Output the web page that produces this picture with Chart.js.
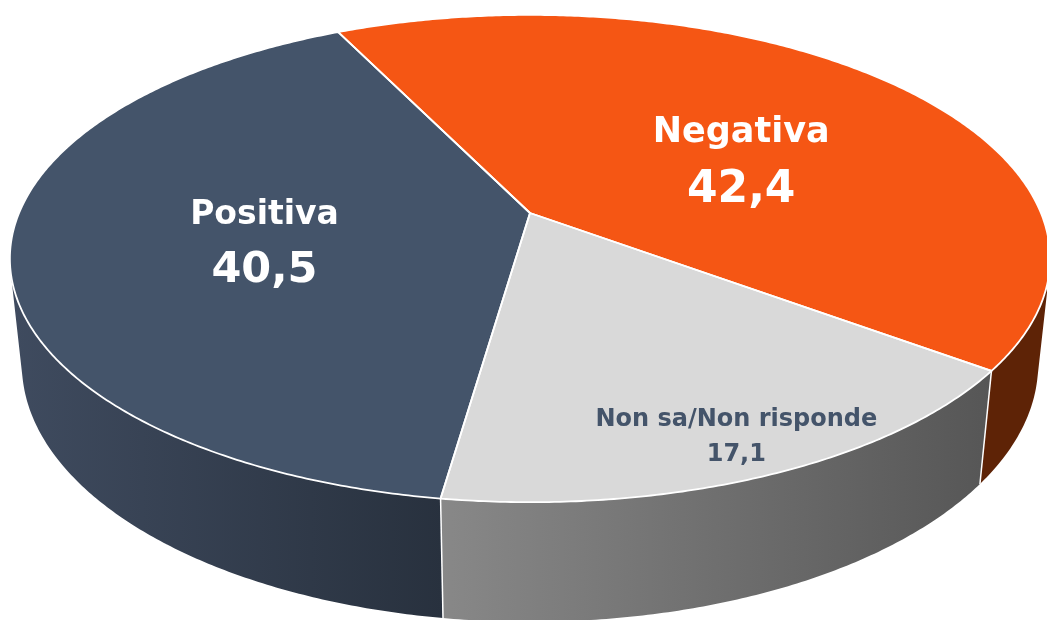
<!DOCTYPE html>
<html lang="it">
<head>
<meta charset="utf-8">
<title>Valutazione</title>
<script src="https://cdn.jsdelivr.net/npm/chart.js@4.4.1/dist/chart.umd.min.js"></script>
<style>
  html, body { margin: 0; padding: 0; background: #fff; }
  #wrap { width: 1047px; height: 620px; position: relative; }
</style>
</head>
<body>
<div id="wrap"><canvas id="pieChart"></canvas></div>
<script>
// =========================
// Data
// =========================
const sliceLabels = ["Positiva", "Negativa", "Non sa/Non risponde"];
const sliceValues = [40.5, 42.4, 17.1];

// =========================
// Style
// =========================
const topColors  = ["#44546A", "#F55614", "#D9D9D9"];
const sideColors = [["#3F4B5F", "#28313E"], ["#5E2306", "#5E2306"], ["#888888", "#565656"]];
const textColors = ["#FFFFFF", "#FFFFFF", "#44546A"];
const nameSizes  = [33, 35, 24];
const valueSizes = [43, 44, 24];
const labelRadius = [0.52, 0.5, 0.875];
const labelTurn   = [-2.6, 9.6, -0.5];   // degrees
const FONT = '"DejaVu Sans", sans-serif';

// perspective camera for the 3D look
const view = { cx: 530, cy: 213, f: 2427, dist: 4.75, tilt: 27.4 * Math.PI / 180, depth: 0.235 };

function project(r, thetaDeg, z) {
  const t = thetaDeg * Math.PI / 180;
  const X = r * Math.sin(t), Y = r * Math.cos(t);
  const zc = view.dist + Y * Math.cos(view.tilt) - z * Math.sin(view.tilt);
  const yc = Y * Math.sin(view.tilt) + z * Math.cos(view.tilt);
  return { x: view.cx + view.f * X / zc, y: view.cy - view.f * yc / zc };
}

function rimPoints(a, b, z) {
  const pts = [];
  const n = Math.max(2, Math.ceil(Math.abs(b - a) / 0.5));
  for (let i = 0; i <= n; i++) pts.push(project(1, a + (b - a) * i / n, z));
  return pts;
}

function formatValue(v) {
  return v.toFixed(1).replace(".", ",");
}

// =========================
// 3D pie plugin
// =========================
const pie3d = {
  id: "pie3d",
  beforeDatasetsDraw(chart) {
    const ctx = chart.ctx;
    const arcs = chart.getDatasetMeta(0).data;
    const h = -view.depth;

    // slice angles from the library, clockwise from top, degrees
    const slices = arcs.map(el => {
      let a = (el.startAngle + Math.PI / 2) * 180 / Math.PI;
      const span = (el.endAngle - el.startAngle) * 180 / Math.PI;
      a = ((a % 360) + 360) % 360;
      return { a, b: a + span };
    });

    const lim = Math.acos(-1 / (view.dist * Math.cos(view.tilt))) * 180 / Math.PI;
    const windows = [[lim, 360 - lim], [lim + 360, 720 - lim]];

    ctx.save();

    // side walls
    slices.forEach((s, i) => {
      windows.forEach(w => {
        const a = Math.max(s.a, w[0]);
        const b = Math.min(s.b, w[1]);
        if (b <= a) return;
        const top = rimPoints(a, b, 0);
        const bot = rimPoints(b, a, h);
        const all = top.concat(bot);
        const xs = all.map(p => p.x);
        const g = ctx.createLinearGradient(Math.min(...xs), 0, Math.max(...xs), 0);
        g.addColorStop(0, sideColors[i][0]);
        g.addColorStop(1, sideColors[i][1]);
        ctx.beginPath();
        all.forEach((p, k) => k ? ctx.lineTo(p.x, p.y) : ctx.moveTo(p.x, p.y));
        ctx.closePath();
        ctx.fillStyle = g;
        ctx.fill();
      });
    });

    // vertical edges where slices meet on the visible wall
    ctx.strokeStyle = "#FFFFFF";
    ctx.lineWidth = 1.5;
    slices.forEach(s => {
      const t = s.a;
      const inside = windows.some(w => (t >= w[0] && t <= w[1]) || (t + 360 >= w[0] && t + 360 <= w[1]));
      if (!inside) return;
      const p0 = project(1, t, 0), p1 = project(1, t, h);
      ctx.beginPath();
      ctx.moveTo(p0.x, p0.y);
      ctx.lineTo(p1.x, p1.y);
      ctx.stroke();
    });

    // top faces
    slices.forEach((s, i) => {
      const c = project(0, 0, 0);
      const rim = rimPoints(s.a, s.b, 0);
      ctx.beginPath();
      ctx.moveTo(c.x, c.y);
      rim.forEach(p => ctx.lineTo(p.x, p.y));
      ctx.closePath();
      ctx.fillStyle = topColors[i];
      ctx.fill();
    });
    ctx.lineJoin = "round";
    ctx.lineWidth = 1.8;
    slices.forEach(s => {
      const c = project(0, 0, 0);
      const rim = rimPoints(s.a, s.b, 0);
      ctx.beginPath();
      ctx.moveTo(c.x, c.y);
      rim.forEach(p => ctx.lineTo(p.x, p.y));
      ctx.closePath();
      ctx.stroke();
    });

    // data labels
    ctx.textAlign = "center";
    ctx.textBaseline = "alphabetic";
    slices.forEach((s, i) => {
      const mid = (s.a + s.b) / 2 + labelTurn[i];
      const p = project(labelRadius[i], mid, 0);
      ctx.fillStyle = textColors[i];
      ctx.font = "bold " + nameSizes[i] + "px " + FONT;
      ctx.fillText(sliceLabels[i], p.x, p.y - nameSizes[i] * 0.42);
      ctx.font = "bold " + valueSizes[i] + "px " + FONT;
      ctx.fillText(formatValue(sliceValues[i]), p.x, p.y + valueSizes[i] * 1.03);
    });

    ctx.restore();
    return false;
  }
};

// =========================
// Create Chart
// =========================
const ctx = document.getElementById("pieChart").getContext("2d");

const pieChart = new Chart(ctx, {
  type: "pie",
  data: {
    labels: sliceLabels,
    datasets: [{
      data: sliceValues,
      backgroundColor: topColors,
      borderColor: "#FFFFFF",
      borderWidth: 2
    }]
  },
  options: {
    responsive: true,
    maintainAspectRatio: false,
    animation: false,
    rotation: 188.2,
    layout: { padding: 0 },
    plugins: {
      legend: { display: false },
      tooltip: { enabled: false }
    }
  },
  plugins: [pie3d]
});
</script>
</body>
</html>
